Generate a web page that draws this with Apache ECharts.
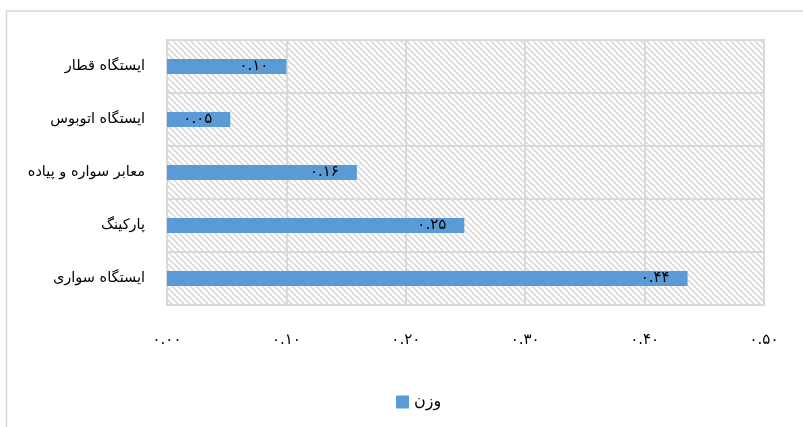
<!DOCTYPE html>
<html>
<head>
<meta charset="utf-8">
<script src="https://cdn.jsdelivr.net/npm/echarts@6/dist/echarts.min.js"></script>
<style>
  html, body { margin: 0; padding: 0; background: #fff; }
  #chart { width: 803px; height: 427px; }
</style>
</head>
<body>
<div id="chart"></div>
<script>
const categories = ["ایستگاه قطار", "ایستگاه اتوبوس", "معابر سواره و پیاده", "پارکینگ", "ایستگاه سواری"];
const weights = [0.10, 0.053, 0.159, 0.249, 0.436];
const seriesName = "وزن";

const faDigits = "۰۱۲۳۴۵۶۷۸۹";
const toFa = (s) => String(s).replace(/\d/g, (d) => faDigits[d]);

// diagonal hatch for the plot background
function hatch() {
  const c = document.createElement("canvas");
  c.width = 6; c.height = 6;
  const ctx = c.getContext("2d");
  ctx.fillStyle = "#ffffff";
  ctx.fillRect(0, 0, 6, 6);
  ctx.strokeStyle = "#d4d4d4";
  ctx.lineWidth = 1.4;
  ctx.beginPath();
  ctx.moveTo(-1, -1); ctx.lineTo(7, 7);
  ctx.moveTo(-4, 2); ctx.lineTo(4, 10);
  ctx.moveTo(2, -4); ctx.lineTo(10, 4);
  ctx.stroke();
  return c;
}

const chart = echarts.init(document.getElementById("chart"), null, { renderer: "canvas" });
const font = "'DejaVu Sans', sans-serif";
chart.setOption({
  animation: false,
  textStyle: { fontFamily: font },
  graphic: [{
    type: "rect",
    shape: { x: 6.5, y: 11, width: 900, height: 600 },
    style: { fill: "none", stroke: "#d9d9d9", lineWidth: 1.5 },
    silent: true,
  }],
  grid: {
    left: 167, right: 39, top: 40, bottom: 122,
    show: true,
    backgroundColor: { image: hatch(), repeat: "repeat" },
    borderColor: "#d9d9d9",
    borderWidth: 2,
  },
  legend: {
    data: [seriesName],
    left: 391, top: 389,
    icon: "rect",
    itemWidth: 13, itemHeight: 13, itemGap: 4,
    textStyle: { fontSize: 16, color: "#000", fontFamily: font, padding: [3, 0, 0, 0] },
  },
  xAxis: {
    type: "value",
    min: 0, max: 0.5, interval: 0.1,
    axisLine: { show: false },
    axisTick: { show: false },
    axisLabel: {
      margin: 28, fontSize: 15, color: "#000",
      formatter: (v) => toFa(v.toFixed(2)),
    },
    splitLine: { show: true, lineStyle: { color: "#d9d9d9", width: 2 } },
  },
  yAxis: {
    type: "category",
    inverse: true,
    data: categories,
    axisLine: { show: true, lineStyle: { color: "#d9d9d9", width: 2 } },
    axisTick: { show: false },
    axisLabel: { margin: 22, fontSize: 14.5, color: "#000" },
    splitLine: { show: true, lineStyle: { color: "#d9d9d9", width: 2 } },
  },
  series: [{
    name: seriesName,
    type: "bar",
    data: weights,
    barWidth: 15,
    itemStyle: { color: "#5b9bd5" },
    label: {
      show: true,
      position: "insideRight",
      distance: 18,
      fontSize: 15,
      color: "#000",
      formatter: (p) => toFa(p.value.toFixed(2)),
    },
  }],
});
</script>
</body>
</html>
